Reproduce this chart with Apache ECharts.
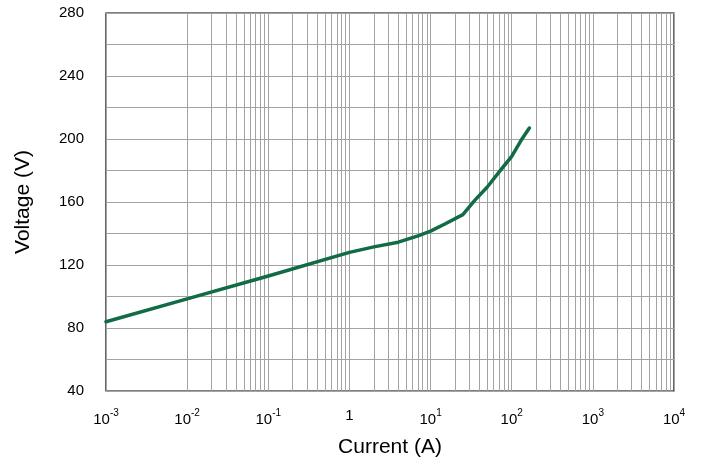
<!DOCTYPE html>
<html>
<head>
<meta charset="utf-8">
<script src="https://cdn.jsdelivr.net/npm/echarts@6/dist/echarts.min.js"></script>
<style>
  html, body { margin: 0; padding: 0; background: #fff; }
  #chart { width: 705px; height: 463px; }
</style>
</head>
<body>
<div id="chart"></div>
<script>
// Current (A) vs. clamping voltage (V)
const current = [0.001, 0.01, 0.1, 1, 2, 4, 7, 10, 15, 25, 35, 50, 75, 100, 130, 165];
const voltage = [84, 98.5, 113, 128, 131.5, 134.5, 138.5, 141.5, 146, 152, 161, 169.5, 181, 189, 199, 207];

const xMin = 0.001, xMax = 10000;
const yMin = 40, yMax = 280, yStep = 40;

// Intermediate log grid lines (2..9 within each decade)
const minorX = [];
for (let e = -3; e < 4; e++) {
  for (let m = 2; m <= 9; m++) minorX.push(m * Math.pow(10, e));
}

const gridColor = '#a3a3a3';
const font = 'Liberation Sans, Arial, sans-serif';

const chart = echarts.init(document.getElementById('chart'));
chart.setOption({
  animation: false,
  grid: {
    left: 106, right: 31, top: 13, bottom: 72,
    show: true, borderColor: '#000', borderWidth: 1.2, backgroundColor: 'transparent'
  },
  xAxis: {
    type: 'log', logBase: 10, min: xMin, max: xMax,
    name: 'Current (A)', nameLocation: 'middle', nameGap: 46,
    nameTextStyle: { fontFamily: font, fontSize: 21, color: '#000' },
    axisLine: { show: false }, axisTick: { show: false },
    splitLine: { show: true, lineStyle: { color: gridColor, width: 1 } },
    axisLabel: {
      margin: 17,
      formatter: function (v) {
        const e = Math.round(Math.log10(v));
        if (e === 0) return '{b|1}';
        return '{b|10}{s|' + e + '}';
      },
      rich: {
        b: { fontFamily: font, fontSize: 15, color: '#000', verticalAlign: 'bottom' },
        s: { fontFamily: font, fontSize: 10, color: '#000', verticalAlign: 'top', padding: [0, 0, 9, 0] }
      }
    }
  },
  yAxis: {
    type: 'value', min: yMin, max: yMax, interval: yStep,
    name: 'Voltage (V)', nameLocation: 'middle', nameGap: 72, nameRotate: 90,
    nameTextStyle: { fontFamily: font, fontSize: 21, color: '#000' },
    axisLine: { show: false }, axisTick: { show: false },
    axisLabel: { margin: 22, fontFamily: font, fontSize: 15, color: '#000' },
    splitLine: { show: true, lineStyle: { color: gridColor, width: 1 } },
    minorTick: { show: false, splitNumber: 2 },
    minorSplitLine: { show: true, lineStyle: { color: gridColor, width: 1 } }
  },
  series: [
    {
      type: 'line',
      data: current.map((c, i) => [c, voltage[i]]),
      smooth: false,
      showSymbol: false,
      lineStyle: { color: '#116b45', width: 3.5, join: 'round', cap: 'round' },
      markLine: {
        silent: true, symbol: 'none', animation: false,
        label: { show: false },
        lineStyle: { color: gridColor, width: 1, type: 'solid' },
        data: minorX.map(v => ({ xAxis: v })),
        z: 1
      },
      z: 3
    }
  ]
});
</script>
</body>
</html>
